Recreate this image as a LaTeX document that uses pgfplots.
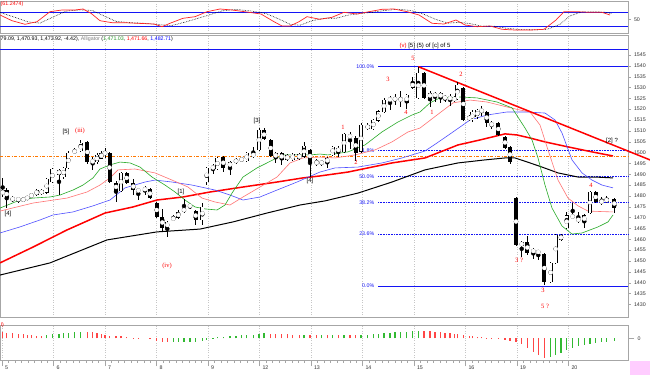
\documentclass[border=0pt]{standalone}
\usepackage{fontspec}
\setmainfont{Liberation Sans}
\newfontfamily\serifl{Liberation Serif}
\usepackage{pgfplots}
\usepackage{pgfplotstable}
\pgfplotsset{compat=1.18}

\definecolor{maGreen}{RGB}{40,170,40}
\definecolor{maPink}{RGB}{255,115,115}
\definecolor{maBlue}{RGB}{80,80,255}
\definecolor{fibBlue}{RGB}{20,20,245}
\definecolor{orangeL}{RGB}{255,120,0}
\definecolor{histG}{RGB}{50,185,50}
\definecolor{histR}{RGB}{255,70,70}
\definecolor{pinkbox}{RGB}{255,205,255}

\pgfplotstableread{
x o h l c
2.7 1480.9 1488.3 1479.5 1482.4
6.7 1482.7 1483.5 1474.4 1479.0
12.7 1478.4 1479.8 1477.0 1478.8
18.3 1478.6 1479.6 1476.8 1478.3
23.3 1477.8 1479.4 1477.2 1478.8
27.3 1478.6 1480.0 1478.0 1479.6
31.3 1479.5 1481.4 1479.0 1480.9
36.7 1480.4 1483.2 1479.8 1482.7
41.7 1482.7 1483.4 1480.2 1480.9
46.7 1481.4 1488.2 1480.8 1487.8
52.3 1486.4 1493.0 1485.8 1492.4
59.0 1492.0 1492.6 1480.4 1489.7
63.7 1488.7 1493.4 1488.0 1492.9
68.3 1492.9 1500.5 1492.4 1499.8
74.7 1499.8 1502.0 1499.2 1501.2
80.7 1500.7 1505.8 1500.2 1504.4
87.3 1504.9 1505.2 1494.8 1495.6
92.7 1496.6 1498.0 1492.0 1495.2
97.0 1495.6 1499.6 1494.8 1498.9
101.3 1497.3 1500.6 1496.8 1499.8
105.0 1499.6 1502.0 1497.6 1499.9
109.5 1499.8 1500.4 1485.8 1486.4
116.0 1486.0 1486.8 1477.2 1482.3
121.0 1482.3 1491.2 1481.8 1490.6
126.7 1490.6 1491.0 1485.4 1486.0
133.3 1486.0 1487.6 1480.6 1482.7
138.3 1481.8 1483.8 1478.1 1483.2
145.0 1483.0 1484.4 1480.6 1483.2
150.0 1483.2 1483.6 1478.6 1479.0
156.7 1476.7 1477.2 1469.8 1470.3
162.3 1470.3 1473.8 1463.8 1465.2
167.3 1465.2 1468.6 1461.0 1468.0
173.3 1469.0 1471.0 1468.6 1470.0
178.3 1469.9 1473.6 1469.4 1472.6
184.0 1472.6 1478.6 1472.0 1474.4
190.0 1475.2 1476.4 1473.8 1475.6
195.7 1473.0 1473.6 1466.8 1468.9
202.3 1468.9 1476.6 1466.4 1474.9
206.7 1486.4 1493.4 1485.2 1492.9
213.0 1493.0 1494.8 1490.0 1493.2
217.3 1492.4 1498.0 1491.8 1497.5
223.3 1497.7 1498.2 1491.2 1492.9
230.0 1493.3 1496.2 1489.5 1495.6
236.0 1495.2 1497.6 1494.6 1497.0
241.7 1497.5 1498.0 1495.6 1496.1
246.7 1496.1 1500.4 1495.6 1499.8
253.3 1499.8 1502.6 1497.4 1498.0
259.0 1501.2 1511.2 1500.6 1510.4
264.0 1510.4 1511.2 1505.6 1506.2
270.7 1505.8 1506.4 1497.8 1498.4
275.7 1497.5 1500.4 1495.2 1499.8
281.7 1499.8 1500.4 1494.2 1496.6
287.3 1496.6 1499.4 1496.0 1498.9
292.7 1496.6 1500.0 1496.0 1499.3
299.3 1497.0 1500.0 1496.4 1499.4
304.0 1498.0 1505.0 1497.4 1503.0
310.0 1501.2 1501.8 1488.7 1495.6
316.7 1496.0 1497.0 1494.0 1494.7
321.7 1494.7 1496.6 1494.0 1496.0
327.3 1495.2 1498.0 1493.0 1497.5
332.7 1498.9 1503.2 1498.4 1502.6
338.3 1502.1 1502.8 1497.8 1500.3
344.0 1500.3 1509.2 1499.8 1508.6
350.0 1508.2 1509.6 1501.8 1506.8
355.7 1506.8 1507.4 1496.0 1499.8
361.0 1500.3 1513.6 1499.8 1512.7
367.7 1512.7 1513.4 1510.2 1510.9
373.3 1510.9 1515.6 1510.4 1515.0
378.3 1514.6 1519.8 1514.0 1519.1
384.0 1518.7 1525.0 1518.2 1524.2
390.0 1524.4 1526.2 1519.6 1524.6
395.0 1524.6 1527.0 1522.0 1524.8
400.7 1524.8 1528.2 1521.0 1524.2
406.7 1522.9 1527.2 1520.0 1526.5
412.7 1532.5 1535.0 1529.2 1529.8
418.3 1525.2 1539.6 1524.6 1536.7
424.0 1536.7 1537.2 1524.6 1525.2
430.0 1525.2 1528.2 1521.0 1527.5
435.0 1525.6 1528.0 1523.4 1527.5
440.7 1527.5 1528.0 1522.8 1525.2
445.0 1525.2 1526.4 1523.4 1525.4
450.0 1525.2 1527.0 1521.6 1525.0
454.3 1524.6 1526.0 1523.4 1524.8
457.3 1524.7 1532.7 1524.2 1531.2
463.3 1529.8 1530.4 1514.6 1515.0
469.3 1515.6 1517.4 1514.6 1516.2
472.3 1515.0 1519.4 1514.0 1518.7
477.3 1516.4 1520.0 1515.6 1519.6
481.7 1519.2 1521.4 1516.8 1519.4
486.7 1518.7 1519.2 1511.6 1513.6
491.7 1513.6 1514.6 1511.0 1512.4
498.3 1513.6 1514.2 1507.6 1508.1
505.0 1507.2 1507.8 1501.6 1502.1
510.0 1502.6 1503.0 1494.8 1495.6
516.0 1479.0 1479.4 1456.8 1457.4
521.7 1456.9 1459.4 1451.8 1458.7
527.3 1458.7 1461.6 1452.8 1453.7
533.3 1454.4 1456.0 1451.0 1454.8
538.3 1454.6 1455.0 1450.4 1453.7
544.3 1453.2 1453.6 1439.0 1440.3
550.7 1440.3 1449.6 1439.8 1449.1
555.7 1449.1 1462.6 1448.6 1462.0
561.0 1462.0 1462.6 1459.0 1459.7
566.7 1465.2 1472.8 1464.8 1471.1
572.7 1471.1 1476.7 1469.4 1469.9
578.3 1469.6 1472.6 1467.6 1468.4
584.3 1467.9 1471.6 1465.0 1471.1
590.0 1472.0 1482.2 1471.6 1481.8
595.7 1481.8 1482.2 1476.6 1477.2
601.7 1477.3 1479.6 1476.0 1477.5
606.7 1477.2 1480.0 1476.6 1479.0
614.3 1478.6 1479.2 1472.0 1474.4
}\candles

\pgfplotstableread{
x v g
2.7 6 0
6.7 5.5 0
12.7 5 0
18.3 4.5 0
23.3 4 0
27.3 3.5 0
31.3 3 0
36.7 2.5 0
41.7 2.3 0
46.7 3.5 1
52.3 4.3 1
59.0 4.8 1
63.7 5.2 1
68.3 5.8 1
74.7 6.5 1
80.7 6.8 1
87.3 6.5 0
92.7 6 0
97.0 5 0
101.3 4.3 0
105.0 3.5 0
109.5 2.8 0
116.0 2.3 0
121.0 2 0
126.7 1.5 0
133.3 0.8 0
138.3 0.3 0
150.0 -0.8 0
156.7 -2.5 0
162.3 -3.5 0
167.3 -4 0
173.3 -4 1
178.3 -4 1
184.0 -3.8 1
190.0 -3.5 1
195.7 -3.2 1
202.3 -2.5 1
206.7 -1.5 1
213.0 0.5 1
217.3 1 1
223.3 1.5 1
230.0 2 1
236.0 2.5 1
241.7 3 1
246.7 3.3 1
253.3 3.8 1
259.0 4.5 1
264.0 5 1
270.7 4.8 0
275.7 4.5 0
281.7 4.2 0
287.3 4 0
292.7 3.8 0
299.3 3.6 0
304.0 3.8 1
310.0 3.5 0
316.7 3.3 0
321.7 3.4 1
327.3 3.2 0
332.7 3.5 1
338.3 3.3 0
344.0 3.6 1
350.0 3.5 0
355.7 3.3 0
361.0 3.6 1
367.7 3.8 1
373.3 4.2 1
378.3 4.6 1
384.0 5 1
390.0 5.5 1
395.0 6 1
400.7 6.5 1
406.7 6.8 1
412.7 7 1
418.3 7.5 1
424.0 7.3 0
430.0 7 0
435.0 6.5 0
440.7 6 0
445.0 5.5 0
450.0 5 0
454.3 4.5 0
457.3 4 0
463.3 3 0
469.3 2.5 0
472.3 2 0
477.3 1.5 0
481.7 1 0
486.7 0.5 0
491.7 0.3 0
498.3 -0.5 0
505.0 -1.5 0
510.0 -2.5 0
516.0 -4 0
521.7 -6 0
527.3 -9.5 0
533.3 -13.5 0
538.3 -17 0
544.3 -19.5 0
550.7 -19 1
555.7 -17 1
561.0 -15 1
566.7 -12 1
572.7 -9.5 1
578.3 -7.5 1
584.3 -6.2 1
590.0 -5.2 1
595.7 -4.4 1
601.7 -3.8 1
606.7 -3.4 1
614.3 -3 1
}\hist

\newcommand{\lab}{\fontsize{6}{7}\selectfont}
\newcommand{\labs}{\serifl\fontsize{6.5}{7}\selectfont}
\newcommand{\tinyf}{\fontsize{5.3}{6}\selectfont}

\pgfplotsset{
  panel/.style={scale only axis, width=628pt, xmin=0, xmax=628,
    axis line style={gray!70}, tick style={gray!70},
    /pgf/number format/assume math mode=true,
    /pgf/number format/1000 sep={},
    tick label style={font=\tinyf, text=black!80},
    xtick={53.5,105,156.5,208,259.5,311,362.5,414,465.5,517,568.5},
    xmajorgrids, x grid style={gray!45, dotted},
    xticklabels={}, major x tick style={draw=none},
    ytick pos=right, yticklabel pos=right, tick align=outside,
    major tick length=2.5pt},
}

\begin{document}
\begin{tikzpicture}
\path[use as bounding box, fill=white] (0,0) rectangle (650pt,-375pt);

% ---------- top stochastic panel ----------
\begin{axis}[panel, at={(0pt,-1pt)}, anchor=north west, height=32pt,
  ymin=-6.3, ymax=127.1, ytick={50}, clip=false]
\addplot[fibBlue, line width=0.9pt] coordinates {(0,80) (628,80)};
\addplot[fibBlue, line width=0.9pt] coordinates {(0,20) (628,20)};
\addplot[black, densely dotted, line width=0.6pt] coordinates {
(0,80) (14,60) (28,40) (40,35) (53,60) (66,85) (80,90) (92,88) (104,65) (116,42)
(130,37) (145,34) (160,28) (172,25) (186,40) (198,55) (210,70) (222,86) (236,92)
(252,85) (266,75) (280,50) (290,30) (300,26) (312,45) (324,55) (336,55) (348,68)
(360,75) (372,80) (386,88) (398,93) (410,88) (422,75) (436,50) (448,35) (460,38)
(470,33) (482,22) (494,22) (506,14) (520,8) (536,7) (548,10) (560,30) (570,65)
(582,82) (594,82) (606,80) (612,75)};
\addplot[red!85, line width=0.7pt] coordinates {
(0,68.8) (12,45) (25,30) (37,40.8) (50,82.5) (62,89.6) (75,89.6) (83,93.8) (91,75.9)
(100,45) (112,36.7) (124,36.7) (137,34.2) (154,31.2) (162,20) (170,34.2) (183,55)
(195,61.7) (207,82.5) (220,93.8) (232,89.6) (249,80) (261,72.9) (274,40.8) (282,22.9)
(290,22.9) (299,40.8) (307,61.7) (320,50.8) (332,59.2) (344,80) (357,72.9) (369,82.5)
(382,92.5) (394,93.8) (407,82.5) (419,68.8) (432,34.2) (444,31.2) (456,47.9) (465,27.1)
(477,20) (490,22.9) (502,9.1) (515,6.2) (531,6.2) (544,9.1) (556,47.9) (564,82.5)
(577,82.5) (589,80) (602,80) (610,68.8)};
\node[anchor=north west, font=\tinyf, text=red, inner sep=0.5pt] at (axis description cs:0,1) {(61.2474)};
\end{axis}

% ---------- main price panel ----------
\begin{axis}[panel, at={(0pt,-35pt)}, anchor=north west, height=282pt,
  ymin=1424.15, ymax=1554.2, ytick={1430,1435,...,1545}, clip=false]
% horizontal reference lines
\addplot[fibBlue, line width=0.7pt] coordinates {(0,1547.8) (628,1547.8)};
\addplot[orangeL, line width=0.6pt, dash pattern=on 3pt off 1.5pt on 1pt off 1.5pt] coordinates {(0,1498.4) (628,1498.4)};
% fibonacci levels
\addplot[fibBlue, line width=0.7pt] coordinates {(378,1539.6) (628,1539.6)};
\addplot[fibBlue, line width=0.6pt, densely dotted] coordinates {(378,1501.0) (628,1501.0)};
\addplot[fibBlue, line width=0.6pt, densely dotted] coordinates {(378,1489.0) (628,1489.0)};
\addplot[fibBlue, line width=0.6pt, densely dotted] coordinates {(378,1477.1) (628,1477.1)};
\addplot[fibBlue, line width=0.6pt, densely dotted] coordinates {(378,1462.4) (628,1462.4)};
\addplot[fibBlue, line width=0.7pt] coordinates {(378,1438.5) (628,1438.5)};
\node[anchor=east, font=\tinyf, text=fibBlue, inner sep=0.5pt] at (axis cs:375,1539.6) {100.0\%};
\node[anchor=east, font=\tinyf, text=fibBlue, inner sep=0.5pt] at (axis cs:375,1501.0) {61.8\%};
\node[anchor=east, font=\tinyf, text=fibBlue, inner sep=0.5pt] at (axis cs:375,1489.0) {50.0\%};
\node[anchor=east, font=\tinyf, text=fibBlue, inner sep=0.5pt] at (axis cs:375,1477.1) {38.2\%};
\node[anchor=east, font=\tinyf, text=fibBlue, inner sep=0.5pt] at (axis cs:375,1462.4) {23.6\%};
\node[anchor=east, font=\tinyf, text=fibBlue, inner sep=0.5pt] at (axis cs:375,1438.5) {0.0\%};

% moving averages
\addplot[black, line width=1pt] coordinates {
(0,1443.5) (50,1449.1) (107,1459.7) (157,1463.4) (200,1464.7) (233,1468.0) (267,1472.1)
(300,1475.8) (325,1477.7) (358,1481.3) (392,1486.4) (425,1492.0) (458,1495.2) (485,1496.6)
(505,1497.5) (515,1497.5) (530,1495.2) (542,1493.3) (558,1490.6) (578,1488.7) (595,1488.7) (613,1488.3)};
\addplot[red, line width=1.5pt] coordinates {
(0,1449.1) (33,1456.4) (67,1464.3) (105,1472.1) (133,1474.9) (157,1478.1) (183,1479.5)
(210,1481.8) (243,1484.1) (277,1486.4) (303,1488.3) (320,1489.2) (348,1491.0) (392,1495.2)
(425,1497.5) (458,1503.5) (480,1505.8) (505,1508.6) (517,1508.1) (530,1506.7) (545,1504.9)
(568,1502.6) (592,1500.3) (613,1498.4)};
\addplot[maBlue, line width=0.6pt] coordinates {
(0,1462.9) (20,1465.7) (40,1468.9) (53,1471.2) (73,1472.6) (93,1475.4) (110,1478.1)
(125,1483.7) (145,1486.4) (155,1487.3) (172,1486.4) (192,1485.0) (205,1483.7) (215,1482.7)
(230,1480.4) (243,1478.1) (260,1479.5) (277,1482.7) (297,1486.4) (320,1491.0) (335,1492.9)
(358,1493.3) (382,1495.2) (402,1497.5) (425,1500.7) (437,1504.4) (453,1509.5) (470,1515.0)
(487,1517.3) (507,1518.7) (527,1518.7) (545,1518.2) (555,1515.0) (562,1509.0) (572,1496.6)
(582,1490.6) (592,1487.3) (602,1485.0) (613,1483.7)};
\addplot[maPink, line width=0.6pt] coordinates {
(0,1473.0) (33,1476.7) (67,1479.0) (87,1481.8) (100,1485.0) (110,1488.3) (118,1492.0)
(135,1492.4) (155,1490.6) (172,1487.3) (188,1484.1) (202,1479.0) (215,1477.2) (230,1475.8)
(243,1479.5) (260,1484.1) (277,1488.7) (290,1495.2) (303,1497.5) (320,1497.9) (335,1497.5)
(355,1498.9) (375,1501.2) (392,1504.9) (408,1509.5) (420,1511.3) (437,1517.3) (453,1522.9)
(470,1524.2) (487,1523.3) (507,1521.0) (520,1519.6) (530,1518.7) (540,1512.7) (548,1501.2)
(558,1487.3) (568,1479.0) (578,1475.4) (588,1473.0) (600,1472.8) (613,1472.6)};
\addplot[maGreen, line width=0.6pt] coordinates {
(0,1474.4) (20,1478.1) (33,1479.0) (50,1479.5) (60,1480.4) (73,1482.7) (83,1485.0)
(93,1488.3) (100,1492.4) (110,1494.3) (120,1495.6) (130,1495.2) (140,1493.3) (152,1488.7)
(165,1485.0) (175,1481.8) (185,1478.1) (195,1474.9) (205,1474.0) (217,1473.5) (225,1475.8)
(232,1481.3) (243,1488.7) (257,1492.9) (273,1496.6) (283,1498.9) (297,1498.9) (310,1498.9)
(320,1499.3) (328,1498.9) (348,1500.3) (365,1503.5) (382,1509.5) (398,1514.1) (412,1517.3)
(420,1518.7) (430,1522.9) (440,1525.2) (460,1525.6) (477,1525.2) (497,1523.3) (512,1520.6)
(525,1511.3) (532,1505.8) (538,1497.5) (545,1485.0) (552,1474.4) (562,1466.1) (572,1462.4)
(582,1462.9) (598,1465.7) (608,1468.0) (613,1471.2)};

% trend line
\addplot[red, line width=1.5pt] coordinates {(418.3,1539.6) (650,1496.6)};

% candles: wicks, bodies, hollow up-bodies
\addplot[only marks, mark=none, error bars/.cd, y dir=both, y explicit, error mark=none,
  error bar style={draw=black, line width=0.6pt}]
  table[x=x, y expr={(\thisrow{h}+\thisrow{l})/2}, y error expr={(\thisrow{h}-\thisrow{l})/2}] {\candles};
\addplot[only marks, mark=none, error bars/.cd, y dir=both, y explicit, error mark=none,
  error bar style={draw=black, line width=4pt}]
  table[x=x, y expr={(\thisrow{o}+\thisrow{c})/2}, y error expr={abs(\thisrow{c}-\thisrow{o})/2+0.1}] {\candles};
\addplot[white, only marks, mark=none,
  error bars/.cd, y dir=both, y explicit, error mark=none,
  error bar style={draw=white, line width=2.8pt}]
  table[x=x, y expr={(\thisrow{o}+\thisrow{c})/2},
        y error expr={(\thisrow{c}-\thisrow{o} > 0.5) ? ((\thisrow{c}-\thisrow{o})/2-0.18) : 0}] {\candles};

% header
\node[anchor=north west, font=\tinyf, inner sep=0.5pt] at (axis description cs:0,0.997)
  {79.09, 1,470.93, 1,473.92, -4.42), \textcolor{gray}{Alligator} (\textcolor{histG!80!black}{1,471.03}, \textcolor{red}{1,471.66}, \textcolor{blue}{1,482.71})};
\node[font=\lab, inner sep=0pt] at (axis cs:425,1549.2) {\textcolor{red}{(v)} [5] (5) of [c] of 5};

% wave labels
\node[font=\lab] at (axis cs:8,1471.7) {[4]};
\node[font=\lab] at (axis cs:66,1509.5) {[5]};
\node[font=\labs, text=red] at (axis cs:80,1510.0) {(iii)};
\node[font=\labs, text=red] at (axis cs:167,1447.7) {(iv)};
\node[font=\lab] at (axis cs:181,1481.8) {[1]};
\node[font=\lab] at (axis cs:257,1514.6) {[3]};
\node[font=\lab] at (axis cs:310,1486.9) {[4]};
\node[font=\labs, text=red] at (axis cs:343,1511.8) {1};
\node[font=\labs, text=red] at (axis cs:356,1495.6) {2};
\node[font=\labs, text=red] at (axis cs:388,1533.9) {3};
\node[font=\labs, text=red] at (axis cs:406,1518.7) {4};
\node[font=\labs, text=red] at (axis cs:413,1543.6) {5};
\node[font=\labs, text=red] at (axis cs:432,1518.7) {1};
\node[font=\labs, text=red] at (axis cs:461,1536.2) {2};
\node[font=\labs, text=red] at (axis cs:519,1450.4) {3 ?};
\node[font=\labs, text=red] at (axis cs:543,1436.6) {3};
\node[font=\labs, text=red] at (axis cs:545,1429.2) {5 ?};
\node[font=\labs, text=red] at (axis cs:591,1485.0) {4};
\node[font=\lab] at (axis cs:612,1505.3) {[2] ?};
\end{axis}

% ---------- bottom histogram panel ----------
\begin{axis}[panel, at={(0pt,-325pt)}, anchor=north west, height=35pt,
  ymin=-21.7, ymax=13.3, ytick={0}, clip=false,
  xtick={2,53.5,105,156.5,208,259.5,311,362.5,414,465.5,517,568.5},
  xticklabels={5,6,7,8,9,12,13,14,15,16,19,20},
  major x tick style={draw=gray!70}, xtick pos=bottom,
  minor x tick num=7, minor tick length=2.5pt, major tick length=6pt,
  x tick label style={anchor=north west, xshift=-0.5pt, yshift=4pt, font=\tinyf}]
\addplot[ycomb, histR, line width=1.3pt, mark=none, restrict expr to domain={\thisrow{g}}{-0.5:0.5}] table[x=x, y=v] {\hist};
\addplot[ycomb, histG, line width=1.3pt, mark=none, restrict expr to domain={\thisrow{g}}{0.5:1.5}] table[x=x, y=v] {\hist};
\node[anchor=north west, font=\tinyf, text=red, inner sep=0.5pt] at (axis description cs:0,1.08) {I)};
\end{axis}

\fill[pinkbox] (630pt,-361pt) rectangle (650pt,-375pt);
\end{tikzpicture}
\end{document}
